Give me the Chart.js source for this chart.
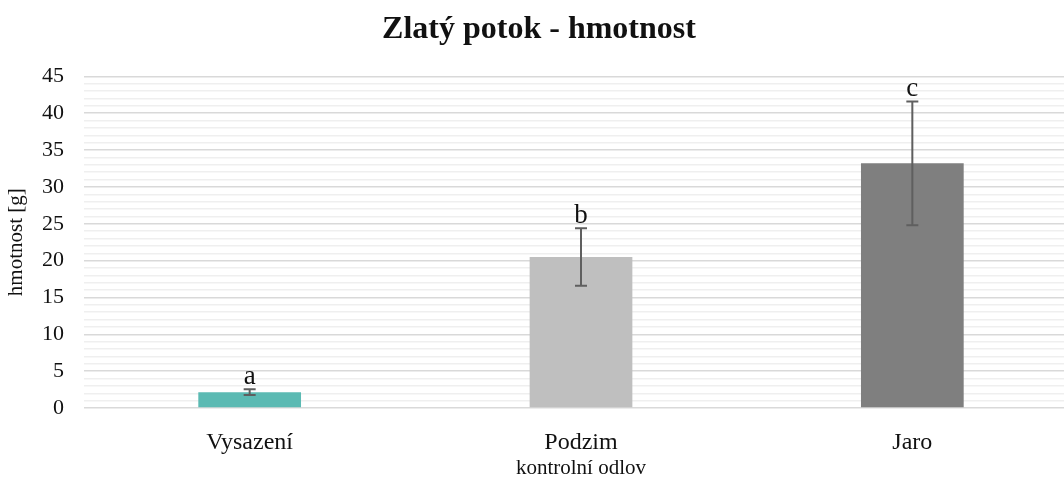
<!DOCTYPE html>
<html>
<head>
<meta charset="utf-8">
<script src="https://cdn.jsdelivr.net/npm/chart.js@4.4.1/dist/chart.umd.min.js"></script>
<style>
    html, body { margin: 0; padding: 0; background: #fff; overflow: hidden; }
    #wrap { width: 1078px; height: 481px; }
</style>
</head>
<body>
<div id="wrap"><canvas id="myChart"></canvas></div>
<script>
// kontrolní odlovy, průměrná hmotnost a směrodatná odchylka
const categories = ['Vysazení', 'Podzim', 'Jaro'];
const meanWeight = [2.15, 20.5, 33.2];
const sdWeight = [0.4, 3.9, 8.4];
const groupLetters = ['a', 'b', 'c'];
const barColors = ['#5bbab3', '#bfbfbf', '#7f7f7f'];

const serif = "'Liberation Serif', 'DejaVu Serif', serif";

// chybové úsečky a písmena nad nimi
const errorBars = {
    id: 'errorBars',
    afterDatasetsDraw(chart) {
        const ctx = chart.ctx;
        const y = chart.scales.y;
        const meta = chart.getDatasetMeta(0);
        ctx.save();
        meta.data.forEach(function (bar, i) {
            const x = bar.x;
            const top = y.getPixelForValue(meanWeight[i] + sdWeight[i]);
            const bottom = y.getPixelForValue(meanWeight[i] - sdWeight[i]);
            ctx.strokeStyle = '#5f5f5f';
            ctx.lineWidth = 2;
            ctx.beginPath();
            ctx.moveTo(x, top);
            ctx.lineTo(x, bottom);
            ctx.moveTo(x - 6, top);
            ctx.lineTo(x + 6, top);
            ctx.moveTo(x - 6, bottom);
            ctx.lineTo(x + 6, bottom);
            ctx.stroke();

            ctx.fillStyle = '#111';
            ctx.font = '27px ' + serif;
            ctx.textAlign = 'center';
            ctx.textBaseline = 'alphabetic';
            ctx.fillText(groupLetters[i], x, top - 5);
        });
        ctx.restore();
    }
};

new Chart(document.getElementById('myChart'), {
    type: 'bar',
    data: {
        labels: categories,
        datasets: [{
            data: meanWeight,
            backgroundColor: barColors,
            borderWidth: 0,
            barPercentage: 0.62,
            categoryPercentage: 0.5
        }]
    },
    options: {
        responsive: true,
        maintainAspectRatio: false,
        animation: false,
        layout: { padding: 0 },
        plugins: {
            legend: { display: false },
            tooltip: { enabled: false },
            title: {
                display: true,
                text: 'Zlatý potok - hmotnost',
                color: '#111',
                font: { family: serif, size: 32, weight: 'bold', lineHeight: 1.2 },
                padding: { top: 11, bottom: 27 }
            }
        },
        scales: {
            x: {
                grid: { display: false },
                border: { display: false },
                ticks: {
                    color: '#111',
                    font: { family: serif, size: 24 },
                    padding: 12
                },
                title: {
                    display: true,
                    text: 'kontrolní odlov',
                    color: '#111',
                    font: { family: serif, size: 21 },
                    padding: { top: 0, bottom: 0 }
                },
                afterFit: function (scale) { scale.height = 73; }
            },
            y: {
                min: 0,
                max: 45,
                border: { display: false },
                grid: {
                    drawTicks: false,
                    lineWidth: 1.5,
                    color: function (c) {
                        return c.tick && c.tick.value % 5 === 0 ? '#d9d9d9' : '#efefef';
                    }
                },
                ticks: {
                    stepSize: 1,
                    autoSkip: false,
                    color: '#111',
                    font: { family: serif, size: 22 },
                    padding: 20,
                    callback: function (v) { return v % 5 === 0 ? v : ''; }
                },
                title: {
                    display: true,
                    text: 'hmotnost [g]',
                    color: '#111',
                    font: { family: serif, size: 21 },
                    padding: { top: 4, bottom: 0 }
                },
                afterFit: function (scale) { scale.width = 84; }
            }
        }
    },
    plugins: [errorBars]
});
</script>
</body>
</html>
